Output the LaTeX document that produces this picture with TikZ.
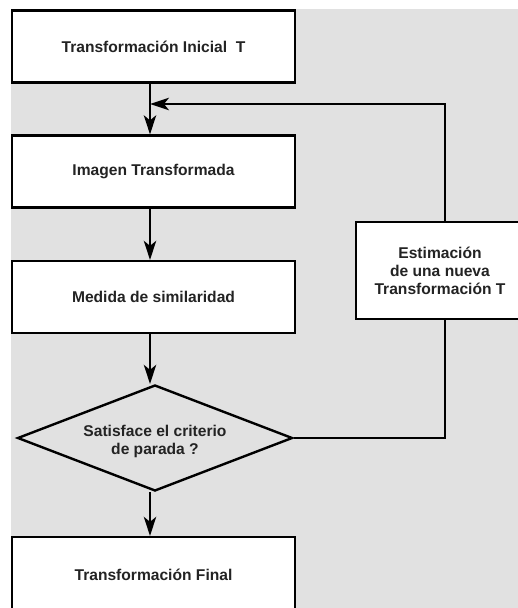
\documentclass[tikz,border=0pt]{standalone}
\usepackage{fontspec}
\setmainfont{Liberation Sans}
\usetikzlibrary{shapes.geometric,arrows.meta}
\definecolor{bggray}{RGB}{225,225,225}
\definecolor{txt}{RGB}{35,35,35}
\begin{document}
\begin{tikzpicture}[x=1pt,y=-1pt,
  box/.style={draw=black,fill=white,line width=2.4pt,minimum width=283pt,minimum height=72pt,inner sep=0pt,
    font=\fontsize{15.6}{18}\selectfont\bfseries,text=txt,align=center},
  decision/.style={draw=black,fill=bggray,line width=2.4pt,shape=diamond,aspect=2.6,minimum width=275pt,minimum height=106pt,inner sep=0pt,
    font=\fontsize{15.6}{18}\selectfont\bfseries,text=txt,align=center},
  conn/.style={line width=2pt,draw=black},
  arr/.style={conn,-{Stealth[length=19pt,width=12.5pt,inset=5pt]}}]
\useasboundingbox (0,0) rectangle (518,608);
\clip (0,0) rectangle (518,608);
\fill[white] (0,0) rectangle (518,608);
\fill[bggray] (11,9) rectangle (520,610);
\coordinate (xl) at (150,0);
\coordinate (xr) at (445,0);
\coordinate (join) at (150,104);
\node[box] (b1) at (153.5,46.5) {Transformación Inicial\ \ T};
\node[box] (b2) at (153.5,171.5) {Imagen Transformada};
\node[box] (b3) at (153.5,297) {Medida de similaridad};
\node[box,minimum width=168pt,minimum height=97pt] (est) at (440,270.5) {Estimación\\de una nueva\\Transformación T};
\node[decision] (dia) at (155,438) {\rule{0pt}{17.5pt}Satisface el criterio\\de parada ?};
\node[box,minimum height=76pt] (fin) at (153.5,575) {Transformación Final};
\draw[arr] (b1.south -| xl) -- (b2.north -| xl);
\draw[arr] (b2.south -| xl) -- (b3.north -| xl);
\draw[arr] (b3.south -| xl) -- (dia.north -| xl);
\draw[arr] (dia.south -| xl) -- (fin.north -| xl);
\draw[conn] (dia.east) -| (xr |- est.south);
\draw[arr] (xr |- est.north) |- (join);
\end{tikzpicture}
\end{document}
